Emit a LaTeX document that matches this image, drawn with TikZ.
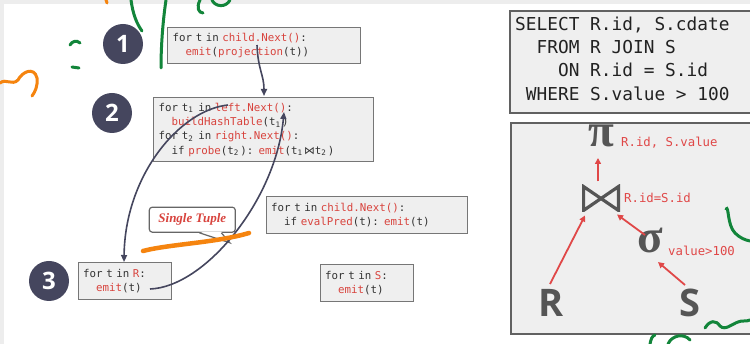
\documentclass[tikz,border=0pt]{standalone}
\usepackage{fontspec}
\setmonofont{DejaVu Sans Mono}
\newfontfamily\djv{DejaVu Sans}
\newfontfamily\opensans{Open Sans}
\newfontfamily\libserif{Liberation Serif}
\usetikzlibrary{arrows.meta,calc}
\definecolor{navy}{HTML}{45465E}
\definecolor{codered}{HTML}{D8433D}
\definecolor{treered}{HTML}{E04848}
\definecolor{boxfill}{HTML}{EFEFEF}
\definecolor{boxline}{HTML}{767676}
\definecolor{symgray}{HTML}{555555}
\definecolor{inkgreen}{HTML}{12853A}
\definecolor{inkorange}{HTML}{F5840F}
\definecolor{bggray}{HTML}{EDEDED}
\definecolor{sqltext}{HTML}{222222}
\newcommand\kw[1]{\textcolor{codered}{#1}}
\newcommand\sbs[1]{\makebox[0.602em][l]{\textsubscript{#1}}}
\newcommand\monosp{\spaceskip=0.602em\relax\xspaceskip=0.602em\relax}
\begin{document}
\begin{tikzpicture}[x=1pt,y=-1pt,
  codebox/.style={draw=boxline, line width=1.3pt, fill=boxfill, inner xsep=5pt, inner ysep=0pt,
    align=left, anchor=north west, text=black!80,
    font=\ttfamily\fontsize{10.8pt}{14.3pt}\selectfont\monosp},
  stepnum/.style={circle, fill=navy, minimum size=40pt, inner sep=0pt, text=white,
    font=\opensans\bfseries\fontsize{24pt}{24pt}\selectfont},
  flow/.style={navy, line width=1.6pt, -{Triangle[length=7pt,width=6pt]}},
  treearrow/.style={treered, line width=1.8pt, -{Triangle[length=6pt,width=6pt]}},
  treelabel/.style={anchor=west, inner sep=0pt, text=treered,
    font=\ttfamily\fontsize{12.3pt}{14pt}\selectfont\monosp},
  treesym/.style={inner sep=0pt, text=symgray, font=\libserif\bfseries\fontsize{47pt}{47pt}\selectfont},
  relsym/.style={inner sep=0pt, text=symgray, font=\opensans\bfseries\fontsize{38pt}{38pt}\selectfont},
  panel/.style={draw=black!62, line width=1.8pt, fill=boxfill},
  inkg/.style={inkgreen, line width=3pt, line cap=round},
  inko/.style={inkorange, line width=3pt, line cap=round}
]
\useasboundingbox (0,0) rectangle (750,344);
\fill[bggray] (0,0) rectangle (750,344);
\fill[white] (4,4) rectangle (750,344);

% step circles
\node[stepnum] (c1) at (123,44) {1};
\node[stepnum] (c2) at (112,113) {2};
\node[stepnum] (c3) at (49,281) {3};

% code boxes
\node[codebox, text width=183pt, minimum height=36pt] (proj) at (167,27)
  {for t in \kw{child.Next()}:\\\hphantom{xx}\kw{emit}(\kw{projection}(t))};
\node[codebox, text width=210pt, minimum height=64pt] (join) at (153,97)
  {for t\sbs{1} in \kw{left.Next()}:\\
   \hphantom{xx}\kw{buildHashTable}(t\sbs{1})\\
   for t\sbs{2} in \kw{right.Next()}:\\
   \hphantom{xx}if \kw{probe}(t\sbs{2}): \kw{emit}(t\sbs{1}{\djv ⋈}t\sbs{2})};
\node[codebox, text width=191pt, minimum height=37pt] (filt) at (265.5,196)
  {for t in \kw{child.Next()}:\\\hphantom{xx}if \kw{evalPred}(t): \kw{emit}(t)};
\node[codebox, text width=83pt, minimum height=37pt] (scanr) at (77.5,262)
  {for t in \kw{R}:\\\hphantom{xx}\kw{emit}(t)};
\node[codebox, text width=83pt, minimum height=37pt] (scans) at (319.5,264)
  {for t in \kw{S}:\\\hphantom{xx}\kw{emit}(t)};

% single tuple callout
\node[draw=black!60, line width=1.2pt, fill=white, rounded corners=3pt,
  minimum width=86pt, minimum height=25pt, inner sep=0pt,
  text=codered, font=\libserif\bfseries\itshape\fontsize{13pt}{13pt}\selectfont]
  (tuple) at (192.3,219.7) {Single Tuple};
\coordinate (tip) at ($(tuple.south east)+(-6,10)$);
\fill[white] ($(tuple.south)+(7,-1.2)$) -- (tip) -- ($(tuple.south)+(29,-1.2)$) -- cycle;
\draw[black!60, line width=1.2pt] ($(tuple.south)+(7,0)$) -- (tip) -- ($(tuple.south)+(29,0)$);

% flow connectors
\coordinate (projcall) at ($(proj.north west)+(90,18)$);
\coordinate (leftcall) at ($(join.north west)+(75,8)$);
\coordinate (rightcall) at ($(join.north west)+(131,15)$);
\coordinate (emitr) at ($(scanr.north west)+(72.5,27)$);
\draw[flow] (projcall) .. controls ($(projcall)+(1,25)$) and ($(join.north west)+(111,-22)$) .. ($(join.north west)+(111,-1)$);
\draw[flow] (leftcall) .. controls (180,110) and (125,175) .. (scanr.north -| 124,0);
\draw[flow] (emitr) .. controls (205,287) and (276,200) .. (rightcall);

% SQL panel
\node[panel, anchor=north west, minimum width=250pt, minimum height=102pt, inner sep=0pt] (sqlbox) at (509,10) {};
\node[anchor=north west, align=left, inner sep=0pt, text=sqltext,
  font=\ttfamily\fontsize{17.8pt}{23.3pt}\selectfont\monosp] (sql) at (515,16.5)
  {SELECT R.id, S.cdate\\
   \hphantom{SE}FROM R JOIN S\\
   \hphantom{SELE}ON R.id = S.id\\
   \hphantom{S}WHERE S.value > 100};

% tree panel
\node[panel, anchor=north west, minimum width=250pt, minimum height=211pt, inner sep=0pt] (treebox) at (510,122) {};
\node[treesym] (pi) at (601,136) {π};
\node[minimum width=38pt, minimum height=27pt, inner sep=0pt,
  path picture={\draw[symgray, line width=3.2pt, line join=miter]
    ($(path picture bounding box.north west)+(1.6,1.6)$) -- (path picture bounding box.center)
    -- ($(path picture bounding box.north east)+(-1.6,1.6)$)
    -- ($(path picture bounding box.south east)+(-1.6,-1.6)$) -- (path picture bounding box.center)
    -- ($(path picture bounding box.south west)+(1.6,-1.6)$) -- cycle;}] (bj) at (601,198.5) {};
\node[treesym] (sig) at (650,241) {σ};
\node[relsym] (rr) at (551,303) {R};
\node[relsym] (ss) at (690,303) {S};
\node[treelabel] (pilab) at (621,142.5) {R.id, S.value};
\node[treelabel] (bjlab) at (624,198) {R.id=S.id};
\node[treelabel] (siglab) at (668,250.5) {value>100};

\draw[treearrow] ($(bj.center)+(-3,-17)$) -- (598,158);
\draw[treearrow] ($(rr.center)+(-1,-19)$) -- ($(bj.center)+(-16,17)$);
\draw[treearrow] (645,235) -- ($(bj.center)+(16,16)$);
\draw[treearrow] ($(ss.center)+(-5,-18)$) -- (658,262);

% hand-drawn ink
\draw[inkg] (131,0) .. controls (133,15) and (137,24) .. (142,31);
\draw[inkg] (166,0) .. controls (163,20) and (161,45) .. (161,68);
\draw[inkg] (200,0) .. controls (196,8) and (199,13) .. (203,13);
\draw[inkg] (212,0) .. controls (215,7) and (226,8) .. (230,0);
\draw[inkg] (70,45) .. controls (72,41) and (77,40) .. (80,43);
\draw[inkg] (72,67) -- (79,68);
\draw[inko] (106,0) -- (107,3);
\draw[inko] (0,83) .. controls (6,78) and (12,86) .. (18,80) .. controls (22,72) and (34,66) .. (37,78) .. controls (38,86) and (35,92) .. (32,96);
\draw[inkorange, line width=4.5pt, line cap=round] (143,251) .. controls (170,244) and (215,243) .. (249,233);
\draw[inkg] (726,209) .. controls (729,205) and (727,225) .. (735,233) .. controls (740,238) and (745,240) .. (750,241);
\draw[inkg] (705,328) .. controls (710,320) and (716,320) .. (720,326) .. controls (725,331) and (732,324) .. (738,322) .. controls (742,320) and (746,322) .. (750,320);
\draw[inkg] (650,344) .. controls (651,339) and (652,336) .. (655,335);
\draw[inkg] (668,344) .. controls (672,335) and (684,333) .. (690,340);
\end{tikzpicture}
\end{document}
